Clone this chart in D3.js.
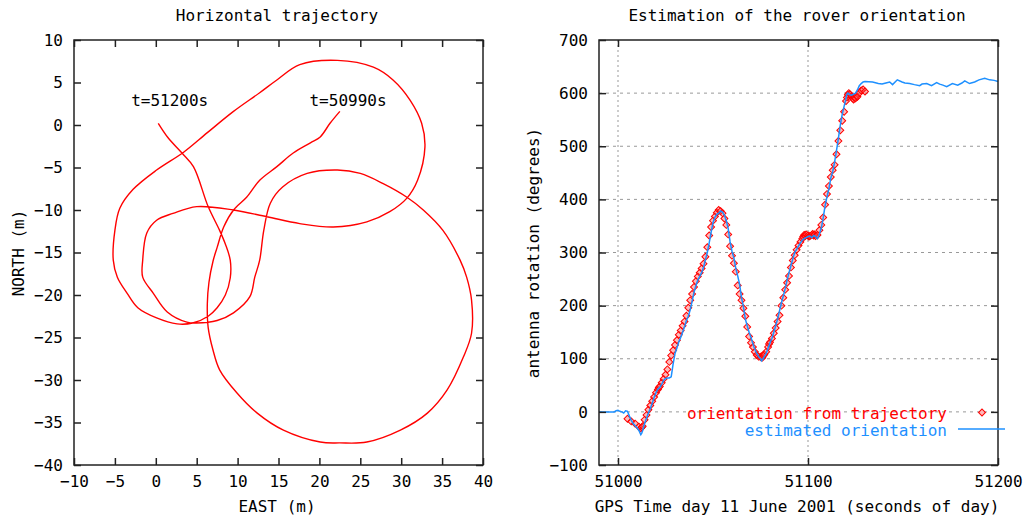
<!DOCTYPE html>
<html>
<head>
<meta charset="utf-8">
<script src="https://cdn.jsdelivr.net/npm/d3@7"></script>
<style>
  body { margin: 0; background: #fff; }
  svg { display: block; }
  text { font-family: "DejaVu Sans Mono", monospace; font-size: 16px; fill: #000; }
</style>
</head>
<body>
<svg id="chart" width="1023" height="515"></svg>
<script>
// ---- Data ----

// horizontal trajectory, in driving order (t=50990s -> t=51200s)
const trajEast = [22.5, 21.3, 20.1, 18.9, 16.8, 14.8, 12.7, 11.1, 9.5, 8.3, 7.5, 7.0, 6.5, 6.3, 6.4, 7.0, 7.8, 9.9, 12.4, 15.6,
  20.1, 22.5, 25.8, 29.9, 33.2, 35.6, 37.6, 38.6, 38.6, 38.0, 37.2, 35.1, 32.7, 30.7, 27.8, 25.0, 22.2, 18.5, 15.5, 14.0,
  13.2, 12.7, 12.1, 11.5, 9.5, 7.5, 5.0, 3.8, 1.4, -0.3, -1.6, -1.6, -1.1, 0.1, 2.1, 5.0, 9.5, 13.6, 17.6, 21.7,
  25.8, 28.6, 30.7, 32.0, 32.9, 32.5, 31.1, 29.0, 26.6, 22.2, 17.6, 14.8, 12.7, 9.5, 6.3, 3.4, 0.1, -2.8, -4.4, -5.0,
  -5.2, -4.7, -3.5, -2.2, 0.1, 2.6, 4.5, 6.4, 7.5, 8.5, 9.1, 9.1, 8.5, 7.8, 6.4, 4.6, 3.2, 1.5, 0.3];
const trajNorth = [1.6, 0.2, -1.4, -2.1, -3.3, -4.9, -6.5, -8.5, -10.0, -12.0, -14.4, -16.0, -18.5, -21.0, -23.8, -26.5, -28.8, -31.5, -33.9, -35.9,
  -37.3, -37.4, -37.3, -35.9, -33.9, -31.2, -27.3, -24.5, -20.6, -17.9, -15.9, -12.4, -10.0, -8.5, -6.9, -5.7, -5.3, -5.7, -7.3, -9.2,
  -12.4, -15.9, -17.9, -20.2, -22.1, -23.0, -23.3, -23.2, -22.0, -19.8, -17.9, -15.9, -12.7, -11.2, -10.4, -9.6, -10.0, -10.8, -11.6, -12.0,
  -11.4, -10.2, -8.6, -6.5, -2.6, 0.2, 2.9, 5.3, 6.8, 7.6, 7.1, 5.3, 3.8, 1.6, -0.9, -3.2, -5.3, -7.6, -9.8, -12.4,
  -15.9, -17.9, -19.8, -21.5, -22.7, -23.4, -23.3, -22.5, -21.5, -20.0, -18.0, -15.9, -14.0, -12.4, -9.6, -4.9, -3.3, -1.5, 0.2];

// the two time labels on the trajectory
const trajLabels = ["t=51200s", "t=50990s"];
const trajLabelPos = [[1.7, 2.9], [23.5, 2.9]];

// orientation from trajectory (red diamonds)
const redTime = [51005, 51007, 51009, 51011, 51012, 51012.5, 51013, 51014, 51015, 51016, 51017, 51018, 51019, 51020, 51021, 51021.5, 51022, 51023, 51024, 51025,
  51026, 51027, 51028, 51029, 51030, 51031, 51032, 51033, 51034, 51035, 51036, 51037, 51038, 51039, 51040, 51041, 51042, 51043, 51044, 51045,
  51046, 51047, 51048, 51049, 51050, 51051, 51052, 51053, 51054, 51055, 51056, 51057, 51058, 51059, 51060, 51061, 51062, 51063, 51064, 51065,
  51066, 51067, 51068, 51069, 51070, 51071, 51072, 51073, 51074, 51075, 51075.5, 51076, 51076.5, 51077, 51078, 51079, 51079.5, 51080, 51081, 51082,
  51083, 51084, 51085, 51086, 51087, 51088, 51089, 51090, 51091, 51092, 51093, 51094, 51095, 51096, 51097, 51097.5, 51098, 51098.5, 51099, 51100,
  51100.5, 51101, 51102, 51102.5, 51103, 51103.5, 51104, 51105, 51106, 51107, 51108, 51109, 51110, 51111, 51112, 51113, 51114, 51115, 51116, 51117,
  51118, 51119, 51120, 51120.5, 51121, 51121.5, 51122, 51123, 51123.5, 51124, 51124.5, 51125, 51125.5, 51126, 51127, 51128, 51129, 51130];
const redAngle = [-13, -18, -22, -28, -31, -29, -27, -15, -6, 4, 12, 20, 28, 36, 42, 46, 48, 55, 62, 70,
  80, 94, 106, 116, 126, 135, 145, 153, 162, 170, 181, 196, 210, 222, 235, 246, 255, 262, 270, 279,
  292, 310, 332, 348, 360, 368, 375, 380, 378, 374, 364, 352, 334, 312, 294, 280, 264, 238, 222, 210,
  195, 180, 160, 142, 130, 122, 113, 107, 104, 103, 105, 102, 106, 108, 113, 122, 128, 131, 138, 148,
  158, 170, 182, 200, 215, 230, 243, 256, 272, 285, 295, 305, 313, 320, 326, 330, 333, 331, 334, 332,
  330, 331, 333, 335, 332, 334, 331, 333, 342, 352, 366, 390, 410, 425, 442, 455, 465, 485, 510, 530,
  548, 565, 585, 592, 597, 600, 598, 594, 590, 588, 592, 590, 595, 593, 600, 605, 607, 603];

// estimated orientation (blue line)
const blueTime = [50990, 50998, 50999, 51000, 51001, 51002, 51003, 51004, 51005, 51006, 51007, 51008, 51009, 51010, 51011, 51012, 51012.5, 51013, 51014, 51015,
  51016, 51017, 51018, 51019, 51020, 51021, 51022, 51023, 51024, 51025, 51026, 51027, 51028, 51029, 51030, 51031, 51032, 51033, 51034, 51035,
  51036, 51037, 51038, 51039, 51040, 51041, 51042, 51043, 51044, 51045, 51046, 51047, 51048, 51049, 51050, 51051, 51052, 51053, 51054, 51055,
  51056, 51057, 51058, 51059, 51060, 51061, 51062, 51063, 51064, 51065, 51066, 51067, 51068, 51069, 51070, 51071, 51072, 51073, 51074, 51075,
  51075.5, 51076, 51077, 51078, 51079, 51080, 51081, 51082, 51083, 51084, 51085, 51086, 51087, 51088, 51089, 51090, 51091, 51092, 51093, 51094,
  51095, 51096, 51097, 51098, 51099, 51100, 51101, 51102, 51103, 51104, 51105, 51106, 51107, 51108, 51109, 51110, 51111, 51112, 51113, 51114,
  51115, 51116, 51117, 51118, 51119, 51120, 51120.5, 51121, 51122, 51123, 51124, 51125, 51126, 51127, 51128, 51129, 51130, 51134, 51137, 51139,
  51141, 51143, 51144.5, 51147, 51149.5, 51151, 51153.5, 51156, 51158.8, 51160, 51162.5, 51165, 51167.7, 51169.3, 51171, 51173, 51176, 51178.8, 51181, 51182.5,
  51185, 51187.7, 51190, 51193, 51195.6, 51198, 51200];
const blueAngle = [0, 0, 2, 3, 1, 0, -2, 2, 1, -8, -16, -22, -26, -30, -35, -43, -40, -35, -22, -12,
  -2, 6, 16, 27, 36, 43, 46, 52, 59, 63, 64, 64, 66, 90, 110, 120, 132, 140, 150, 160,
  172, 180, 192, 208, 225, 238, 248, 255, 262, 272, 286, 300, 318, 338, 356, 366, 372, 374, 378, 376,
  370, 360, 345, 320, 302, 290, 270, 256, 240, 215, 198, 175, 162, 150, 140, 128, 118, 110, 104, 100,
  96, 98, 104, 110, 120, 130, 138, 150, 162, 175, 190, 205, 218, 232, 248, 262, 275, 288, 300, 306,
  312, 318, 323, 326, 328, 330, 331, 328, 332, 330, 326, 335, 346, 365, 388, 405, 420, 440, 452, 470,
  492, 515, 540, 560, 575, 590, 598, 600, 597, 596, 598, 600, 606, 614, 618, 621, 622, 621, 618, 617,
  619, 621, 616, 625, 621, 619, 618, 616, 614, 617, 618, 614, 620, 617, 615, 612, 618, 615, 619, 623,
  618, 621, 625, 628, 625, 624, 622];

// ticks
const leftXTicks = [-10, -5, 0, 5, 10, 15, 20, 25, 30, 35, 40];
const leftYTicks = [-40, -35, -30, -25, -20, -15, -10, -5, 0, 5, 10];
const rightXTicks = [51000, 51100, 51200];
const rightYTicks = [-100, 0, 100, 200, 300, 400, 500, 600, 700];

// ---- Setup ----
const svg = d3.select("#chart");
const red = "#ff0000";
const blue = "#1e90ff";
const tick = 7;

// draws ticks on all four sides (gnuplot mirror style) + labels on bottom/left
function drawAxes(g, x, y, xTicks, yTicks, fmt) {
  const [x0, x1] = x.range();
  const [y0, y1] = y.range();

  g.append("g")
    .attr("transform", `translate(0,${y0})`)
    .call(d3.axisBottom(x).tickValues(xTicks).tickSize(-tick).tickPadding(11).tickFormat(fmt))
    .call(a => a.select(".domain").remove());
  g.append("g")
    .attr("transform", `translate(0,${y1})`)
    .call(d3.axisTop(x).tickValues(xTicks).tickSize(-tick).tickFormat(""))
    .call(a => a.select(".domain").remove());
  g.append("g")
    .attr("transform", `translate(${x0},0)`)
    .call(d3.axisLeft(y).tickValues(yTicks).tickSize(-tick).tickPadding(11).tickFormat(fmt))
    .call(a => a.select(".domain").remove());
  g.append("g")
    .attr("transform", `translate(${x1},0)`)
    .call(d3.axisRight(y).tickValues(yTicks).tickSize(-tick).tickFormat(""))
    .call(a => a.select(".domain").remove());

  g.selectAll(".tick line").attr("stroke", "#222").attr("stroke-width", 1.5);
  g.selectAll(".tick text")
    .attr("font-family", "DejaVu Sans Mono, monospace")
    .attr("font-size", 16)
    .attr("fill", "#000");

  // frame
  g.append("rect")
    .attr("x", x0).attr("y", y1)
    .attr("width", x1 - x0).attr("height", y0 - y1)
    .attr("fill", "none")
    .attr("stroke", "#222")
    .attr("stroke-width", 1.5);
}

// ---- Left chart: horizontal trajectory ----
const xL = d3.scaleLinear().domain([-10, 40]).range([74, 483]);
const yL = d3.scaleLinear().domain([-40, 10]).range([465, 40]);
const left = svg.append("g");

const trajLine = d3.line()
  .x(i => xL(trajEast[i]))
  .y(i => yL(trajNorth[i]))
  .curve(d3.curveCatmullRom.alpha(0.5));

left.append("path")
  .attr("d", trajLine(d3.range(trajEast.length)))
  .attr("fill", "none")
  .attr("stroke", red)
  .attr("stroke-width", 1.4);

left.selectAll(".tlabel")
  .data(trajLabels)
  .join("text")
  .attr("class", "tlabel")
  .attr("x", (d, i) => xL(trajLabelPos[i][0]))
  .attr("y", (d, i) => yL(trajLabelPos[i][1]) + 6)
  .attr("text-anchor", "middle")
  .text(d => d);

drawAxes(left, xL, yL, leftXTicks, leftYTicks, d3.format("d"));

left.append("text").attr("x", 277).attr("y", 21).attr("text-anchor", "middle").text("Horizontal trajectory");
left.append("text").attr("x", 277).attr("y", 512).attr("text-anchor", "middle").text("EAST (m)");
left.append("text")
  .attr("transform", "translate(24,253) rotate(-90)")
  .attr("text-anchor", "middle")
  .text("NORTH (m)");

// ---- Right chart: rover orientation ----
const xR = d3.scaleLinear().domain([50990, 51200]).range([599, 998]);
const yR = d3.scaleLinear().domain([-100, 700]).range([465, 40]);
const right = svg.append("g");

// grid
right.selectAll(".vgrid")
  .data(rightXTicks.filter(t => t < 51200))
  .join("line")
  .attr("x1", d => xR(d)).attr("x2", d => xR(d))
  .attr("y1", 40).attr("y2", 465)
  .attr("stroke", "#999")
  .attr("stroke-dasharray", "2,3");
right.selectAll(".hgrid")
  .data(rightYTicks.filter(v => v > -100 && v < 700))
  .join("line")
  .attr("x1", 599).attr("x2", 998)
  .attr("y1", d => yR(d)).attr("y2", d => yR(d))
  .attr("stroke", "#999")
  .attr("stroke-dasharray", "3,4");

// red diamonds
const diamond = d3.symbol().type(d3.symbolSquare).size(24);
right.selectAll(".pt")
  .data(d3.range(redTime.length))
  .join("path")
  .attr("class", "pt")
  .attr("d", diamond)
  .attr("transform", i => `translate(${xR(redTime[i])},${yR(redAngle[i])}) rotate(45)`)
  .attr("fill", "rgba(255,80,80,0.4)")
  .attr("stroke", red)
  .attr("stroke-width", 1);

// blue line
const blueLine = d3.line()
  .x(i => xR(blueTime[i]))
  .y(i => yR(blueAngle[i]));
right.append("path")
  .attr("d", blueLine(d3.range(blueTime.length)))
  .attr("fill", "none")
  .attr("stroke", blue)
  .attr("stroke-width", 1.5);

drawAxes(right, xR, yR, rightXTicks, rightYTicks, d3.format("d"));

right.append("text").attr("x", 797).attr("y", 21).attr("text-anchor", "middle").text("Estimation of the rover orientation");
right.append("text").attr("x", 797).attr("y", 512).attr("text-anchor", "middle").text("GPS Time day 11 June 2001 (seconds of day)");
right.append("text")
  .attr("transform", "translate(539,253) rotate(-90)")
  .attr("text-anchor", "middle")
  .text("antenna rotation (degrees)");

// legend
right.append("text").attr("x", 947).attr("y", 419).attr("text-anchor", "end")
  .style("fill", red).text("orientation from trajectory");
right.append("path")
  .attr("d", diamond)
  .attr("transform", "translate(982,412.5) rotate(45)")
  .attr("fill", "rgba(255,80,80,0.4)")
  .attr("stroke", red);
right.append("text").attr("x", 947).attr("y", 436).attr("text-anchor", "end")
  .style("fill", blue).text("estimated orientation");
right.append("line")
  .attr("x1", 958).attr("x2", 1005)
  .attr("y1", 429).attr("y2", 429)
  .attr("stroke", blue)
  .attr("stroke-width", 1.5);
</script>
</body>
</html>
